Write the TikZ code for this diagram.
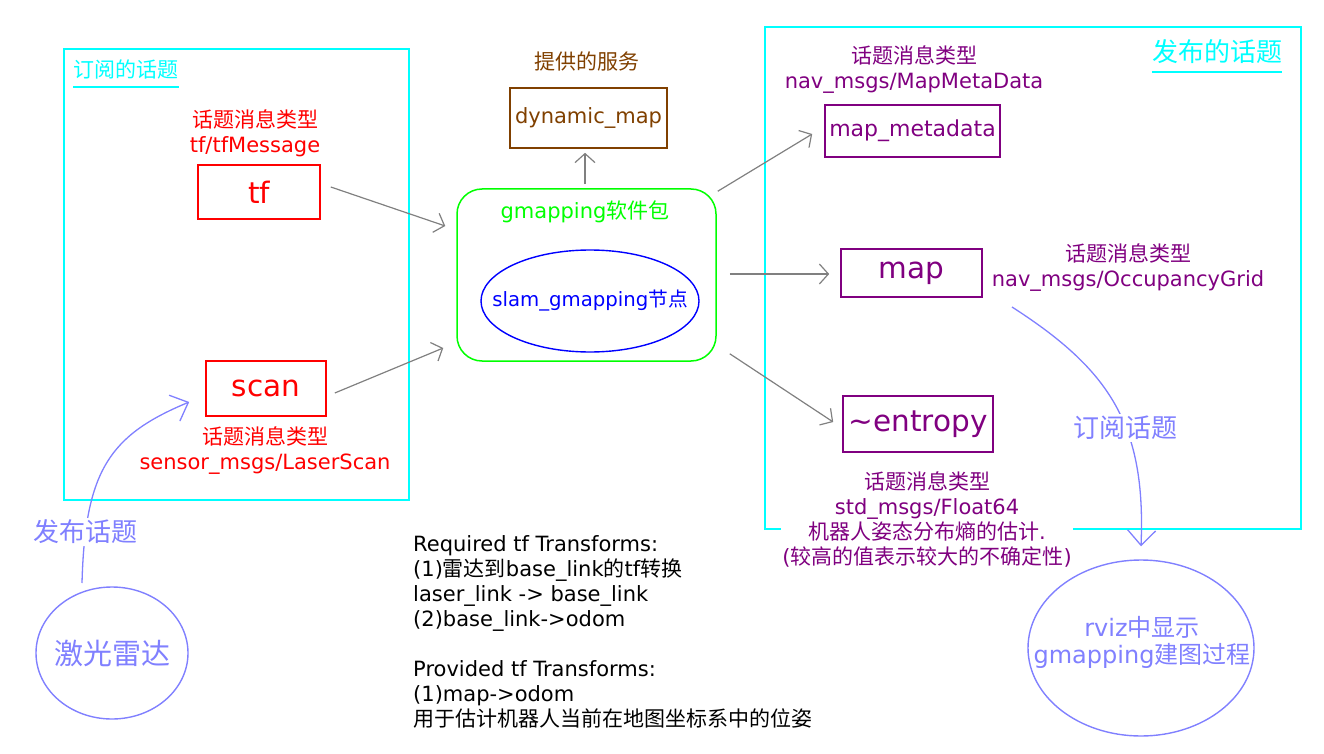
\documentclass[tikz,border=0pt]{standalone}
\usepackage{fontspec}
\setmainfont{DejaVu Sans}
\newfontfamily\zhfont{Noto Sans CJK SC}
\newcommand{\zh}[1]{{\zhfont #1}}
\usetikzlibrary{shapes.geometric, arrows.meta, positioning, calc}
\definecolor{topiccyan}{HTML}{00FFFF}
\definecolor{msgred}{HTML}{FF0000}
\definecolor{pubpurple}{HTML}{800080}
\definecolor{srvbrown}{HTML}{804000}
\definecolor{pkggreen}{HTML}{00FF00}
\definecolor{nodeblue}{HTML}{0000FF}
\definecolor{handviolet}{HTML}{8080FF}
\definecolor{flowgray}{HTML}{808080}

\begin{document}
\begin{tikzpicture}[x=1pt, y=-1pt,
  group/.style={rectangle, draw=topiccyan, line width=2pt, inner sep=0pt},
  grouptitle/.style={text=topiccyan, inner sep=0pt},
  topic/.style={rectangle, draw, line width=1.6pt, inner sep=0pt, font=\fontsize{29.5}{32}\selectfont},
  msglbl/.style={align=center, font=\fontsize{21}{25}\selectfont, inner sep=1pt},
  flow/.style={draw=flowgray, line width=1.2pt, -{Straight Barb[length=9pt, width=20pt]}},
  hand/.style={draw=handviolet, line width=1.3pt, -{Straight Barb[length=15pt, width=28pt]}},
  handlbl/.style={text=handviolet, fill=white, font=\fontsize{26}{30}\selectfont, inner sep=2pt},
  endpoint/.style={ellipse, draw=handviolet, line width=1.4pt, inner sep=0pt},
  endlbl/.style={align=center, text=handviolet, inner sep=0pt}
]
  \useasboundingbox (0,0) rectangle (1324,754);

  % Topic groups
  \node[group, minimum width=345, minimum height=451] (subgroup) at (236.5,274.5) {};
  \node[group, minimum width=536, minimum height=502] (pubgroup) at (1033,278) {};
  \node[grouptitle, font=\fontsize{21}{25}\selectfont] (subtitle) at (126,69) {\zh{订阅的话题}};
  \draw[topiccyan, line width=2pt] ($(subtitle.south west)+(0,8)$) -- ($(subtitle.south east)+(0,8)$);
  \node[grouptitle, font=\fontsize{26}{30}\selectfont] (pubtitle) at (1217,52) {\zh{发布的话题}};
  \draw[topiccyan, line width=2pt] ($(pubtitle.south west)+(0,8)$) -- ($(pubtitle.south east)+(0,8)$);

  % Subscribed topics
  \node[topic, draw=msgred, text=msgred, minimum width=122, minimum height=54] (tf) at (259,192) {tf};
  \node[topic, draw=msgred, text=msgred, minimum width=120, minimum height=55] (scan) at (266,388.5) {scan};
  \node[msglbl, text=msgred] (tflbl) at (255,133) {\zh{话题消息类型}\\tf/tfMessage};
  \node[msglbl, text=msgred] (scanlbl) at (265,451) {\zh{话题消息类型}\\sensor\_msgs/LaserScan};

  % gmapping package
  \node[rectangle, draw=pkggreen, line width=1.5pt, rounded corners=25pt, minimum width=259, minimum height=172] (gm) at (586.5,275) {};
  \node[text=pkggreen, font=\fontsize{21}{25}\selectfont] (gmlbl) at (585,212) {gmapping\zh{软件包}};
  \node[ellipse, draw=nodeblue, line width=1.4pt, minimum width=218, minimum height=102, inner sep=0pt] (slam) at (590,301) {};
  \node[text=nodeblue, inner sep=0pt, font=\fontsize{19.7}{24}\selectfont] (slamlbl) at (slam.center) {slam\_gmapping\zh{节点}};

  % Service
  \node[topic, draw=srvbrown, text=srvbrown, minimum width=157, minimum height=60, font=\fontsize{21}{25}\selectfont] (dyn) at (588.5,118) {dynamic\_map};
  \node[msglbl, text=srvbrown] (srvlbl) at (587,61) {\zh{提供的服务}};

  % Published topics
  \node[topic, draw=pubpurple, text=pubpurple, minimum width=175, minimum height=52, font=\fontsize{22}{26}\selectfont] (meta) at (912.5,131) {map\_metadata};
  \node[topic, draw=pubpurple, text=pubpurple, minimum width=141, minimum height=48] (map) at (911.5,273) {map};
  \node[topic, draw=pubpurple, text=pubpurple, minimum width=150, minimum height=56] (ent) at (918,424) {\textasciitilde entropy};
  \node[msglbl, text=pubpurple] (metalbl) at (914,70) {\zh{话题消息类型}\\nav\_msgs/MapMetaData};
  \node[msglbl, text=pubpurple] (occlbl) at (1128,268) {\zh{话题消息类型}\\nav\_msgs/OccupancyGrid};
  \node[msglbl, text=pubpurple, fill=white] (entlbl) at (927,519) {\zh{话题消息类型}\\std\_msgs/Float64\\\zh{机器人姿态分布熵的估计}.\\(\zh{较高的值表示较大的不确定性})};

  % Laser and rviz
  \node[endpoint, minimum width=152, minimum height=132] (laser) at (112,653) {};
  \node[endlbl, font=\fontsize{29}{32}\selectfont] (laserlbl) at (laser.center) {\zh{激光雷达}};
  \node[endpoint, minimum width=226, minimum height=176] (rviz) at (1141,648) {};
  \node[endlbl, font=\fontsize{24}{27}\selectfont] (rvizlbl) at (1142,642) {rviz\zh{中显示}\\gmapping\zh{建图过程}};
  \coordinate (pubfoot) at (82,583);
  \coordinate (subtop) at (1012,307);

  % tf notes
  \node[anchor=north west, align=left, inner sep=0pt, font=\fontsize{21}{25}\selectfont] (tfnote) at (413,535) {Required tf Transforms:\\
(1)\zh{雷达到}base\_link\zh{的}tf\zh{转换}\\
laser\_link -> base\_link\\
(2)base\_link->odom\\[25pt]
Provided tf Transforms:\\
(1)map->odom\\
\zh{用于估计机器人当前在地图坐标系中的位姿}};

  % Arrows
  \draw[flow] ($(tf.east)+(10,-5)$) -- ($(gm.west)+(-11,-49)$);
  \draw[flow] ($(scan.east)+(8,4.5)$) -- ($(gm.west)+(-13,73)$);
  \draw[flow] ($(gm.north)+(-1.5,-4)$) -- ($(dyn.south)+(-3.5,4)$);
  \draw[flow] ($(gm.north east)+(1,3)$) -- ($(meta.west)+(-12,3)$);
  \draw[flow] ($(gm.east)+(13,-1)$) -- ($(map.west)+(-11,1)$);
  \draw[flow] ($(gm.south east)+(13,-8)$) -- ($(ent.west)+(-9,-2)$);
  \draw[hand] (pubfoot) .. controls (85,470) and (110,435) .. node[handlbl, pos=0.17] {\zh{发布话题}} ($(scan.west)+(-16,13.5)$);
  \draw[hand] (subtop) .. controls (1110,370) and (1146,425) .. node[handlbl, pos=0.6] {\zh{订阅话题}} ($(rviz.north)+(0,-13)$);
\end{tikzpicture}
\end{document}
